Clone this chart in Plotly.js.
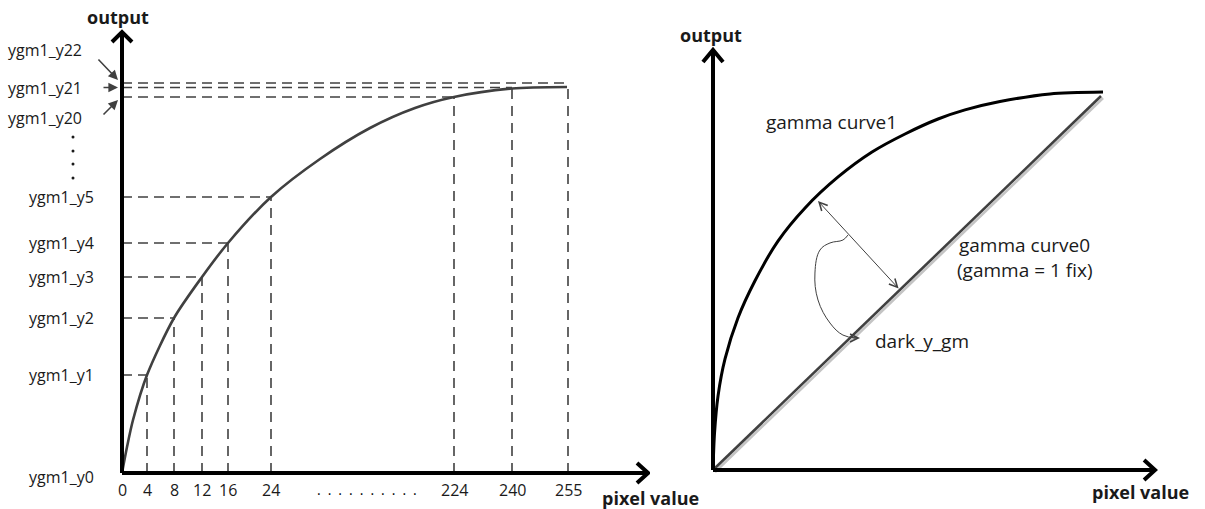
<!DOCTYPE html>
<html><head><meta charset="utf-8">
<script src="https://cdn.plot.ly/plotly-3.0.1.min.js"></script>
<style>html,body{margin:0;padding:0;background:#fff}#chart{width:1205px;height:509px}</style>
</head><body><div id="chart"></div>
<script>
// ---------- Left diagram: gamma curve sampled at pixel values ----------
const pixelTicks = ['0','4','8','12','16','24','224','240','255'];
const tickPos    = [0, 25, 52, 80, 106, 149, 332, 390, 446];          // schematic position on the broken x axis
const levelLabels = ['ygm1_y0','ygm1_y1','ygm1_y2','ygm1_y3','ygm1_y4','ygm1_y5','ygm1_y20','ygm1_y21','ygm1_y22'];
const levelPos    = [0, 98, 155, 196, 230, 276, 376, 385.5, 390];      // schematic output level
const levelLabelShift = [-4, 0, 0, 0, 0, 0, -21, 0, 33];               // label offset from its level (callouts)
// the drawn curve (passes through the sample points)
const curveX = [0, 5, 11, 25, 52, 80, 106, 149, 198, 248, 293, 332, 390, 445];
const curveY = [0, 26, 53, 98, 155, 196, 230, 276, 314, 345, 365, 376, 384.5, 386];

// ---------- Right diagram: gamma curve1 vs gamma curve0 ----------
const gamma1X = [0, 1.0, 3.3, 7.9, 16.4, 27.6, 42.7, 60.5, 82.2, 104.5, 126.2, 147.9, 165.6, 188.6, 221.5, 256.3];
const gamma1Y = [0, 25.2, 50.5, 75.7, 103.6, 129, 156.1, 178.7, 199.8, 216.8, 229.1, 239.3, 245.5, 251.2, 256.4, 257.7];
const gamma0X = [0, 255];
const gamma0Y = [0, 255];
const darkArrowX = [88.7, 85.4, 76.9, 70.3, 67.0, 69.0, 76.9, 85.4, 94.0];
const darkArrowY = [160.2, 156.8, 154.8, 150.0, 134.3, 115.9, 100.2, 92.0, 90.0];

const W = 1205, H = 509;
const FONT = 'Open Sans, Lato, sans-serif';
const INK = '#1a1a1a', GREY = '#404040';
const px = v => v / W, py = v => 1 - v / H;

const traces = [];

// left: dashed guide lines
const hx = [], hy = [], vx = [], vy = [];
for (let i = 1; i < tickPos.length; i++) {
  hx.push(0, tickPos[i], null); hy.push(levelPos[i], levelPos[i], null);
  vx.push(tickPos[i], tickPos[i], null); vy.push(0, Math.min(levelPos[i], curveY[curveY.length - 1]), null);
}
traces.push({x: hx, y: hy, mode: 'lines', line: {color: GREY, width: 1.6, dash: '10px,6px'}, xaxis: 'x', yaxis: 'y', hoverinfo: 'skip'});
traces.push({x: vx, y: vy, mode: 'lines', line: {color: GREY, width: 1.6, dash: '10px,7px'}, xaxis: 'x', yaxis: 'y', hoverinfo: 'skip'});
// left: curve
traces.push({x: curveX, y: curveY, mode: 'lines', line: {color: GREY, width: 2.6, shape: 'spline', smoothing: 0.8}, xaxis: 'x', yaxis: 'y', hoverinfo: 'skip'});
// left: axes with arrow heads
traces.push({x: [0, 0, null, -10, 0, 10], y: [0, 441, null, 431, 441, 431], mode: 'lines', line: {color: '#000', width: 4}, xaxis: 'x', yaxis: 'y', hoverinfo: 'skip'});
traces.push({x: [0, 526, null, 515, 526, 515], y: [0, 0, null, 10, 0, -10], mode: 'lines', line: {color: '#000', width: 4}, xaxis: 'x', yaxis: 'y', hoverinfo: 'skip'});
// left: vertical ellipsis dots
traces.push({x: [-49, -49, -49, -49], y: [336, 322, 309, 295], mode: 'markers', marker: {color: INK, size: 3}, xaxis: 'x', yaxis: 'y', hoverinfo: 'skip'});

// right: shadow of curve0 (on base axes shifted by 2px)
traces.push({x: gamma0X, y: gamma0Y, mode: 'lines', line: {color: '#c4c4c4', width: 2.6}, xaxis: 'x2', yaxis: 'y2', hoverinfo: 'skip'});
// right: curves
traces.push({x: gamma0X, y: gamma0Y, mode: 'lines', line: {color: GREY, width: 2.6}, xaxis: 'x3', yaxis: 'y3', hoverinfo: 'skip'});
traces.push({x: gamma1X, y: gamma1Y, mode: 'lines', line: {color: '#000', width: 3, shape: 'spline', smoothing: 0.8}, xaxis: 'x3', yaxis: 'y3', hoverinfo: 'skip'});
traces.push({x: darkArrowX, y: darkArrowY, mode: 'lines', line: {color: GREY, width: 1, shape: 'spline', smoothing: 1.1}, xaxis: 'x3', yaxis: 'y3', hoverinfo: 'skip'});
// right: axes with arrow heads
traces.push({x: [0, 0, null, -6.6, 0, 6.6], y: [0, 286.4, null, 278.2, 286.4, 278.2], mode: 'lines', line: {color: '#000', width: 4}, xaxis: 'x3', yaxis: 'y3', hoverinfo: 'skip'});
traces.push({x: [0, 290.5, null, 283.3, 290.5, 283.3], y: [0, 0, null, 6.8, 0, -6.8], mode: 'lines', line: {color: '#000', width: 4}, xaxis: 'x3', yaxis: 'y3', hoverinfo: 'skip'});

const ann = [];
const txt = (x, y, text, size, bold, extra) => Object.assign({
  xref: 'paper', yref: 'paper', x: px(x), y: py(y), text: bold ? '<b>' + text + '</b>' : text,
  showarrow: false, font: {family: FONT, size: size, color: INK}, xanchor: 'center', yanchor: 'middle'
}, extra || {});

// left texts
ann.push(txt(118, 17, 'output', 18, true));
ann.push(txt(650, 498, 'pixel value', 18, true));
pixelTicks.forEach((t, i) => ann.push({xref: 'x', yref: 'paper', x: tickPos[i], y: py(490), text: t, showarrow: false,
  font: {family: FONT, size: 16, color: INK}, xanchor: 'center', yanchor: 'middle'}));
ann.push(txt(367, 489, '.\u2002.\u2002.\u2002.\u2002.\u2002.\u2002.\u2002.\u2002.\u2002.', 14, false, {font: {family: FONT, size: 14, color: '#000'}}));
levelLabels.forEach((t, i) => ann.push({xref: 'paper', yref: 'y', x: px(i >= 6 ? 84 : 96), y: levelPos[i] + levelLabelShift[i], text: t,
  showarrow: false, font: {family: FONT, size: 16, color: INK}, xanchor: 'right', yanchor: 'middle'}));
// callout arrows for y20..y22
[[393, -21, -22], [385.5, -16, 0], [373, -16, 16]].forEach(a => ann.push({xref: 'x', yref: 'y', x: -4, y: a[0], ax: a[1], ay: a[2],
  text: '', showarrow: true, arrowhead: 2, arrowsize: 1.2, arrowwidth: 1.6, arrowcolor: GREY, standoff: 0}));

// right texts
ann.push(txt(711, 35, 'output', 18, true));
ann.push(txt(1140, 492, 'pixel value', 18, true));
ann.push(txt(831, 122, 'gamma curve1', 19, false));
ann.push(txt(1024, 245, 'gamma curve0', 19, false));
ann.push(txt(1025, 270, '(gamma = 1 fix)', 19, false));
ann.push(txt(873, 341, 'dark_y_gm', 19, false, {xanchor: 'left'}));
// double-headed arrow between the curves
ann.push({xref: 'x3', yref: 'y3', axref: 'x3', ayref: 'y3', x: 69.0, y: 183.4, ax: 122.9, ay: 122.7, text: '',
  showarrow: true, arrowside: 'end+start', arrowhead: 5, startarrowhead: 5, arrowsize: 1.6, startarrowsize: 1.6,
  arrowwidth: 1, arrowcolor: GREY, standoff: 0, startstandoff: 0});
// head of the curved arrow
ann.push({xref: 'x3', yref: 'y3', x: 96.6, y: 90.0, ax: -8, ay: 0, text: '', showarrow: true, arrowhead: 5,
  arrowsize: 1.6, arrowwidth: 1, arrowcolor: GREY, standoff: 0});

const hid = {visible: false, fixedrange: true};
const split = 650 / W;
const layout = {
  width: W, height: H, margin: {l: 0, r: 0, t: 0, b: 0}, showlegend: false,
  paper_bgcolor: '#fff', plot_bgcolor: 'rgba(0,0,0,0)',
  xaxis:  Object.assign({domain: [0, split], range: [-122, 528], anchor: 'y'}, hid),
  yaxis:  Object.assign({domain: [0, 1], range: [-36, 473], anchor: 'x'}, hid),
  xaxis2: Object.assign({domain: [split, 1], range: [-42.71, 322.03], anchor: 'y2'}, hid),
  yaxis2: Object.assign({domain: [0, 1], range: [-25.23, 321.81], anchor: 'x2'}, hid),
  xaxis3: Object.assign({overlaying: 'x2', range: [-41.40, 323.34], anchor: 'y3'}, hid),
  yaxis3: Object.assign({overlaying: 'y2', range: [-26.59, 320.45], anchor: 'x3'}, hid),
  annotations: ann
};
Plotly.newPlot('chart', traces, layout, {staticPlot: true, displayModeBar: false});
</script>
</body></html>
